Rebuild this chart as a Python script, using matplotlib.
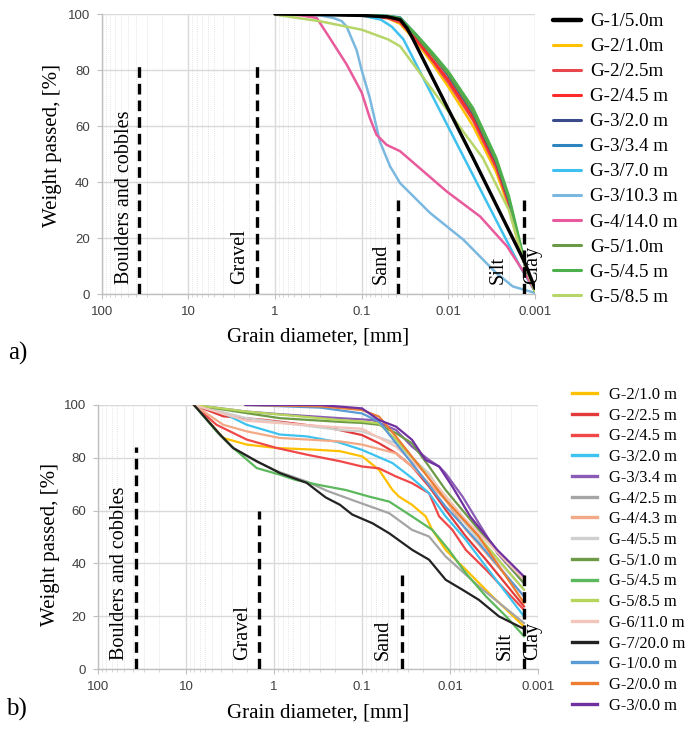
import matplotlib
matplotlib.use("Agg")
import matplotlib.pyplot as plt
from matplotlib.ticker import LogLocator, NullFormatter, FixedLocator, FixedFormatter

plt.rcParams['font.family'] = ['Liberation Sans', 'DejaVu Sans']
SERIF = ['Liberation Serif', 'DejaVu Serif']

# ---------------- data: chart a) ----------------
a_G1_50_d = [1, 0.3, 0.1, 0.05, 0.036, 0.03, 0.0255, 0.01, 0.00518, 0.0013, 0.001]
a_G1_50_v = [100, 99.8, 99.5, 99, 98, 95, 91, 66, 48.6, 11, 2]

a_bundle_d = [1, 0.3, 0.1, 0.05, 0.036, 0.0233, 0.015, 0.01, 0.00518, 0.0028, 0.002, 0.0015, 0.0013, 0.001]
a_G2_10_v = [100, 99.9, 99.5, 98.5, 96.5, 90, 82, 74, 60, 43.5, 31, 16, 10, 1]
a_G2_25_v = [100, 99.9, 99.5, 98.5, 97, 90.5, 83, 75.5, 62, 45, 32, 17, 10, 1]
a_G2_45_v = [100, 99.9, 99.6, 98.8, 97.5, 91, 83.5, 76.5, 63, 46, 33, 17, 10, 1]
a_G3_20_v = [100, 99.9, 99.7, 99.2, 98.6, 92, 85, 78, 64.5, 47, 33.5, 17.5, 10, 1]
a_G3_34_v = [100, 100, 99.8, 99.3, 98.8, 92.5, 85.5, 79, 65.5, 47.8, 34, 18, 10, 1]
a_G5_10_v = [100, 100, 99.7, 99.2, 98.3, 92, 85, 78.5, 65, 47.5, 34, 18, 10.5, 1]
a_G5_45_v = [100, 100, 99.8, 99.3, 98.6, 92.6, 86, 79.5, 66.4, 48.6, 35, 19, 11, 1]

a_G3_70_d = [1, 0.3, 0.1, 0.06, 0.045, 0.033, 0.0068, 0.0015, 0.001]
a_G3_70_v = [100, 99.8, 99.5, 98, 95.5, 91, 49.5, 10, 1]

a_G3_103_d = [1, 0.3, 0.213, 0.17, 0.149, 0.114, 0.1, 0.0805, 0.0617, 0.047, 0.036, 0.0163, 0.0067, 0.0028, 0.0018, 0.001]
a_G3_103_v = [100, 99.5, 98.6, 97.5, 95.5, 87, 80, 70, 54.5, 45.6, 39.6, 29, 19.4, 7.5, 2.7, 0.4]

a_G4_140_d = [1, 0.5, 0.33, 0.233, 0.149, 0.1, 0.0805, 0.0675, 0.0516, 0.036, 0.0105, 0.0043, 0.0021, 0.00125, 0.001]
a_G4_140_v = [100, 99.5, 98.6, 91.4, 82, 72, 62.9, 56.9, 53.3, 51, 36.7, 27.7, 17, 6.3, 1]

a_G5_85_d = [1, 0.3, 0.1, 0.05, 0.036, 0.0088, 0.004, 0.002, 0.0013, 0.001]
a_G5_85_v = [99.8, 97.4, 94.4, 91, 88.5, 62.9, 48.6, 30, 10, 1]

a_series = [
    ('G-1/5.0m', a_G1_50_d, a_G1_50_v, '#000000'),
    ('G-2/1.0m', a_bundle_d, a_G2_10_v, '#FFC000'),
    ('G-2/2.5m', a_bundle_d, a_G2_25_v, '#E8474E'),
    ('G-2/4.5 m', a_bundle_d, a_G2_45_v, '#FF2A2A'),
    ('G-3/2.0 m', a_bundle_d, a_G3_20_v, '#3A4A8A'),
    ('G-3/3.4 m', a_bundle_d, a_G3_34_v, '#2E86C1'),
    ('G-3/7.0 m', a_G3_70_d, a_G3_70_v, '#3EC1EE'),
    ('G-3/10.3 m', a_G3_103_d, a_G3_103_v, '#7BB8E0'),
    ('G-4/14.0 m', a_G4_140_d, a_G4_140_v, '#E85A9B'),
    ('G-5/1.0m', a_bundle_d, a_G5_10_v, '#6A9A48'),
    ('G-5/4.5 m', a_bundle_d, a_G5_45_v, '#4CB04C'),
    ('G-5/8.5 m', a_G5_85_d, a_G5_85_v, '#B6D66A'),
]

# ---------------- data: chart b) ----------------
b_G2_10_d = [8.1, 3.77, 2.04, 0.93, 0.357, 0.178, 0.099, 0.064, 0.045, 0.038, 0.027, 0.0189, 0.0159, 0.0112, 0.0066, 0.0033, 0.00144]
b_G2_10_v = [100, 87.5, 85, 83.7, 83.1, 82.5, 80.5, 75.4, 67.8, 65.3, 62.2, 57.8, 52.7, 45.1, 37.6, 27.5, 16.1]
b_G2_25_d = [8.1, 3.77, 1.32, 0.66, 0.231, 0.1, 0.064, 0.041, 0.027, 0.0173, 0.0112, 0.0066, 0.0039, 0.00144]
b_G2_25_v = [100, 95.7, 94.4, 93.2, 91.3, 88.6, 85.5, 81.7, 76.7, 69.1, 60.3, 50.2, 41.4, 23.7]
b_G2_45_d = [8.1, 4.5, 2.04, 0.93, 0.425, 0.178, 0.1, 0.064, 0.041, 0.027, 0.0173, 0.0133, 0.0094, 0.0066, 0.0039, 0.00144]
b_G2_45_v = [100, 92.5, 86.9, 83.7, 81.2, 78.7, 76.7, 76, 72.9, 70.4, 66.6, 57.8, 52.7, 45.1, 37.6, 22.4]
b_G3_20_d = [8.1, 3.77, 2.04, 0.855, 0.425, 0.19, 0.1, 0.045, 0.027, 0.0173, 0.0112, 0.0066, 0.0039, 0.00144]
b_G3_20_v = [100, 96.9, 92.5, 88.8, 88.1, 86, 83, 78, 72.3, 66.6, 57.8, 48.9, 38.8, 19.9]
b_G3_34_d = [8.1, 2.04, 0.855, 0.178, 0.076, 0.041, 0.027, 0.0173, 0.0133, 0.0112, 0.0072, 0.0047, 0.0029, 0.00144]
b_G3_34_v = [100, 97.5, 96.5, 95, 94.3, 90.5, 84.2, 79.2, 76.7, 74.1, 65.3, 55.2, 43.9, 32.5]
b_G4_25_d = [8.1, 4.1, 2.9, 1.57, 0.855, 0.425, 0.25, 0.129, 0.049, 0.027, 0.0173, 0.0112, 0.0047, 0.00144]
b_G4_25_v = [100, 88.5, 83.5, 78.5, 74.5, 71, 67.5, 64, 59, 52.7, 50.2, 42.6, 31.3, 17.4]
b_G4_43_d = [8.1, 3.77, 2.04, 0.855, 0.178, 0.1, 0.041, 0.027, 0.0112, 0.0066, 0.00144]
b_G4_43_v = [100, 92.5, 90, 87.5, 86.2, 85, 81.7, 76.7, 64, 52.7, 27.5]
b_G4_55_d = [8.1, 2.04, 0.178, 0.1, 0.041, 0.0173, 0.0112, 0.0047, 0.00144]
b_G4_55_v = [100, 95, 90.5, 90, 85.5, 74.1, 64, 48.9, 30]
b_G5_10_d = [8.1, 2.04, 0.855, 0.178, 0.1, 0.064, 0.041, 0.027, 0.0173, 0.0112, 0.0047, 0.00144]
b_G5_10_v = [100, 96.9, 95, 93.6, 93.2, 92.5, 89.3, 85.5, 76.7, 67.8, 52.7, 32.5]
b_G5_45_d = [8.1, 4.5, 2.9, 1.57, 0.855, 0.567, 0.308, 0.153, 0.083, 0.049, 0.027, 0.0159, 0.0103, 0.0066, 0.0039, 0.0023, 0.00144]
b_G5_45_v = [100, 90, 83.7, 76.1, 73.6, 71.6, 69.7, 67.8, 65.3, 63.4, 57.8, 52.7, 45.1, 36.3, 27.5, 19.9, 12.4]
b_G5_85_d = [8.1, 2.04, 0.178, 0.1, 0.064, 0.041, 0.0173, 0.0047, 0.00144]
b_G5_85_v = [100, 97.5, 94.3, 93.8, 93, 86.8, 72.9, 50.2, 30]
b_G6_110_d = [8.1, 2.04, 0.178, 0.1, 0.041, 0.0173, 0.0072, 0.00144]
b_G6_110_v = [100, 94, 91.5, 91, 84.2, 72.9, 57.8, 33.8]
b_G7_200_d = [8.1, 4.1, 2.9, 1.57, 0.855, 0.425, 0.259, 0.178, 0.129, 0.076, 0.049, 0.0268, 0.0173, 0.0112, 0.0072, 0.0047, 0.00277, 0.0015]
b_G7_200_v = [100, 88.8, 83.7, 78.7, 74.2, 70.5, 65, 62.2, 58.5, 55.2, 51.4, 45.1, 41.4, 33.8, 30, 26.2, 19.9, 15.5]
b_G1_00_d = [2.1, 0.3, 0.1, 0.064, 0.041, 0.027, 0.0112, 0.0047, 0.00144]
b_G1_00_v = [100, 99, 96.8, 93.7, 85.5, 77.9, 61.5, 47.7, 27.5]
b_G2_00_d = [2.1, 0.3, 0.1, 0.064, 0.041, 0.027, 0.0112, 0.0047, 0.00144]
b_G2_00_v = [100, 99.5, 98.1, 95.6, 88, 80.4, 64, 50.2, 25]
b_G3_00_d = [2.1, 0.3, 0.1, 0.064, 0.041, 0.027, 0.019, 0.0133, 0.0094, 0.0059, 0.0029, 0.00144]
b_G3_00_v = [100, 100, 98.7, 94.3, 91.8, 86.8, 79.2, 76.7, 69.1, 57.8, 45.1, 35]

b_series = [
    ('G-2/1.0 m', b_G2_10_d, b_G2_10_v, '#FFC000'),
    ('G-2/2.5 m', b_G2_25_d, b_G2_25_v, '#E33B3B'),
    ('G-2/4.5 m', b_G2_45_d, b_G2_45_v, '#F04848'),
    ('G-3/2.0 m', b_G3_20_d, b_G3_20_v, '#3DC3EF'),
    ('G-3/3.4 m', b_G3_34_d, b_G3_34_v, '#8B5CB5'),
    ('G-4/2.5 m', b_G4_25_d, b_G4_25_v, '#A5A5A5'),
    ('G-4/4.3 m', b_G4_43_d, b_G4_43_v, '#F4A986'),
    ('G-4/5.5 m', b_G4_55_d, b_G4_55_v, '#CFCFCF'),
    ('G-5/1.0 m', b_G5_10_d, b_G5_10_v, '#6C9A47'),
    ('G-5/4.5 m', b_G5_45_d, b_G5_45_v, '#5CB85C'),
    ('G-5/8.5 m', b_G5_85_d, b_G5_85_v, '#B5D65A'),
    ('G-6/11.0 m', b_G6_110_d, b_G6_110_v, '#F2C4BA'),
    ('G-7/20.0 m', b_G7_200_d, b_G7_200_v, '#222222'),
    ('G-1/0.0 m', b_G1_00_d, b_G1_00_v, '#5B9BD5'),
    ('G-2/0.0 m', b_G2_00_d, b_G2_00_v, '#ED7D31'),
    ('G-3/0.0 m', b_G3_00_d, b_G3_00_v, '#7030A0'),
]

# fraction boundaries (dashed lines): diameter and height
a_bound_d = [37, 1.63, 0.038, 0.00134]
a_bound_top = [82, 82, 35, 35]
b_bound_d = [37, 1.48, 0.035, 0.00144]
b_bound_top = [84, 60, 36, 36]

soil_names = ['Boulders and cobbles', 'Gravel', 'Sand', 'Silt', 'Clay']
a_name_d = [54, 2.59, 0.059, 0.00268, 0.00106]
b_name_d = [57, 2.25, 0.0577, 0.00237, 0.00114]

x_ticks = [100, 10, 1, 0.1, 0.01, 0.001]
x_tick_labels = ['100', '10', '1', '0.1', '0.01', '0.001']
y_ticks = [0, 20, 40, 60, 80, 100]

fig = plt.figure(figsize=(6.87, 7.31), dpi=100)
ax1 = fig.add_axes([0.148, 0.5978, 0.6307, 0.383])
ax2 = fig.add_axes([0.1426, 0.0848, 0.6405, 0.3612])


def style(ax, xlab_y, ylab_x, ylab_y):
    ax.set_xscale('log')
    ax.set_xlim(100, 0.001)
    ax.set_ylim(0, 100)
    ax.xaxis.set_major_locator(FixedLocator(x_ticks))
    ax.xaxis.set_major_formatter(FixedFormatter(x_tick_labels))
    ax.xaxis.set_minor_locator(LogLocator(base=10, subs=range(2, 10), numticks=20))
    ax.xaxis.set_minor_formatter(NullFormatter())
    ax.set_yticks(y_ticks)
    ax.set_axisbelow(True)
    ax.grid(which='major', color='#d9d9d9', lw=1.0)
    ax.grid(which='minor', axis='x', color='#dcdcdc', lw=0.6, ls=(0, (1, 1.5)))
    for s in ['top', 'right']:
        ax.spines[s].set_visible(False)
    for s in ['left', 'bottom']:
        ax.spines[s].set_color('#bfbfbf')
        ax.spines[s].set_linewidth(1.0)
    ax.tick_params(which='major', length=3.5, width=0.8, color='#bfbfbf',
                   labelsize=9.5, labelcolor='#404040', pad=5)
    ax.tick_params(which='minor', length=2, width=0.6, color='#cfcfcf')
    ax.set_xlabel('Grain diameter, [mm]', family=SERIF, fontsize=15, va='top')
    ax.xaxis.set_label_coords(0.5, xlab_y)
    ax.set_ylabel('Weight passed, [%]', family=SERIF, fontsize=15)
    ax.yaxis.set_label_coords(ylab_x, ylab_y)


style(ax1, -0.118, -0.092, 0.53)
style(ax2, -0.129, -0.086, 0.47)

# chart a curves
for name, d, v, c in a_series:
    lw = 2.4 if name == 'G-1/5.0m' else 1.8
    z = 4 if name == 'G-1/5.0m' else 3
    ax1.plot(d, v, color=c, lw=lw, label=name, zorder=z, solid_capstyle='round')
for d, top in zip(a_bound_d, a_bound_top):
    ax1.plot([d, d], [0, top], color='black', lw=2.4, dashes=(3.2, 1.8), zorder=5)
for name, d in zip(soil_names, a_name_d):
    ax1.text(d, 3.5, name, rotation=90, ha='center', va='bottom',
             family=SERIF, fontsize=14.5, zorder=6)

# chart b curves
for name, d, v, c in b_series:
    ax2.plot(d, v, color=c, lw=1.6, label=name, zorder=3)
for d, top in zip(b_bound_d, b_bound_top):
    ax2.plot([d, d], [0, top], color='black', lw=2.4, dashes=(3.2, 1.8), zorder=5)
for name, d in zip(soil_names, b_name_d):
    ax2.text(d, 3.5, name, rotation=90, ha='center', va='bottom',
             family=SERIF, fontsize=14.5, zorder=6)

h1, l1 = ax1.get_legend_handles_labels()
leg1 = fig.legend(h1, l1, loc='upper left', bbox_to_anchor=(553 / 687, 1 - 13 / 731),
                  frameon=False, borderpad=0, borderaxespad=0,
                  prop={'family': SERIF, 'size': 13.7},
                  handlelength=1.45, handletextpad=0.5, labelspacing=0.405)
for h in leg1.legend_handles:
    h.set_linewidth(3.2 if h.get_label() == 'G-1/5.0m' else 2.2)

h2, l2 = ax2.get_legend_handles_labels()
leg2 = fig.legend(h2, l2, loc='upper left', bbox_to_anchor=(572 / 687, 1 - 387 / 731),
                  frameon=False, borderpad=0, borderaxespad=0,
                  prop={'family': SERIF, 'size': 11.9},
                  handlelength=1.5, handletextpad=0.72, labelspacing=0.285)
for h in leg2.legend_handles:
    h.set_linewidth(2.4)

fig.text(8 / 687, 1 - 353 / 731, 'a)', family=SERIF, fontsize=18, va='center', ha='left')
fig.text(6 / 687, 1 - 709 / 731, 'b)', family=SERIF, fontsize=18, va='center', ha='left')

fig.savefig('out.png', dpi=100)
